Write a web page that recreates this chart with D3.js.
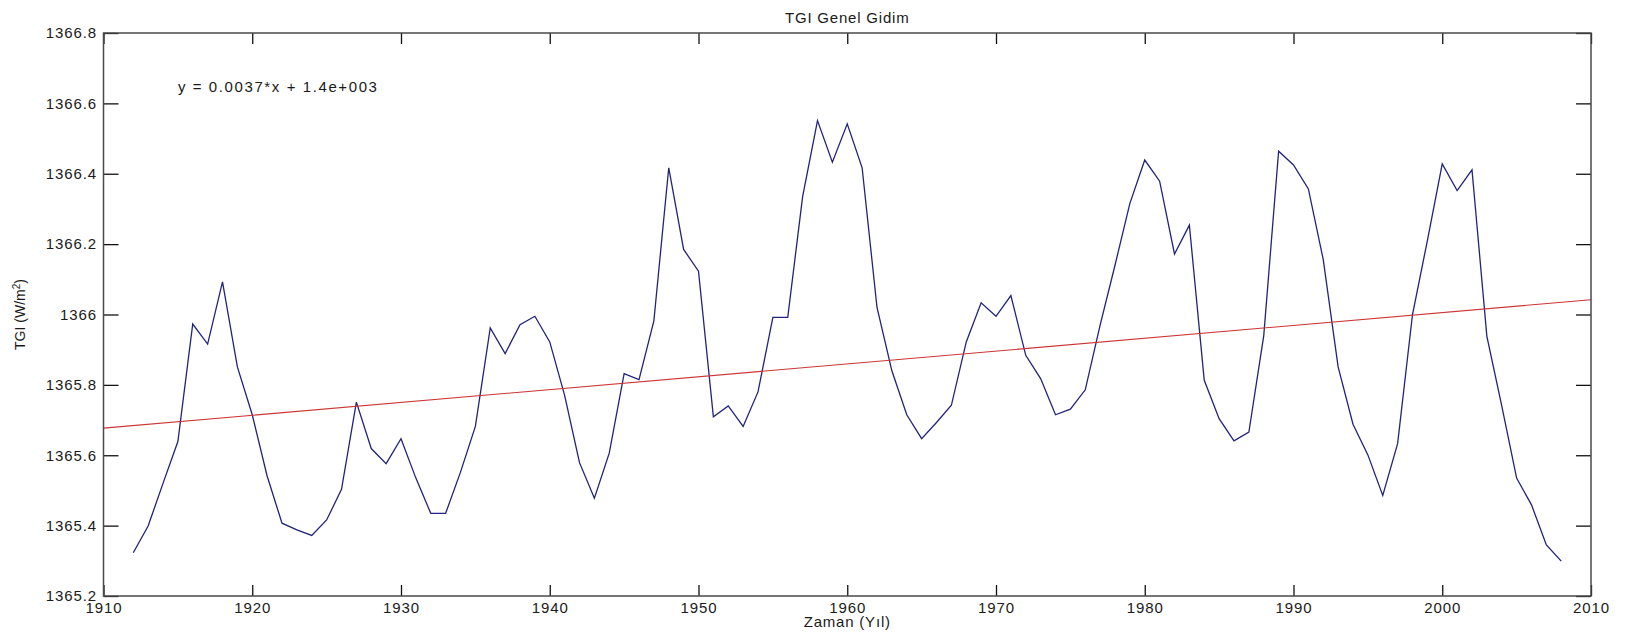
<!DOCTYPE html>
<html>
<head>
<meta charset="utf-8">
<script src="https://cdn.jsdelivr.net/npm/d3@7"></script>
<style>
  body { margin: 0; background: #fff; }
  text { font-family: "Liberation Sans", Arial, sans-serif; fill: #1a1a1a; }
</style>
</head>
<body>
<svg id="chart" width="1629" height="641"></svg>
<script>
// yearly TGI values
var years = [1912, 1913, 1914, 1915, 1916, 1917, 1918, 1919, 1920, 1921,
    1922, 1923, 1924, 1925, 1926, 1927, 1928, 1929, 1930, 1931,
    1932, 1933, 1934, 1935, 1936, 1937, 1938, 1939, 1940, 1941,
    1942, 1943, 1944, 1945, 1946, 1947, 1948, 1949, 1950, 1951,
    1952, 1953, 1954, 1955, 1956, 1957, 1958, 1959, 1960, 1961,
    1962, 1963, 1964, 1965, 1966, 1967, 1968, 1969, 1970, 1971,
    1972, 1973, 1974, 1975, 1976, 1977, 1978, 1979, 1980, 1981,
    1982, 1983, 1984, 1985, 1986, 1987, 1988, 1989, 1990, 1991,
    1992, 1993, 1994, 1995, 1996, 1997, 1998, 1999, 2000, 2001,
    2002, 2003, 2004, 2005, 2006, 2007, 2008];
var tgi = [1365.323, 1365.399, 1365.52, 1365.639, 1365.973, 1365.916, 1366.093, 1365.851, 1365.715, 1365.541,
    1365.407, 1365.388, 1365.372, 1365.416, 1365.503, 1365.751, 1365.619, 1365.576, 1365.647, 1365.535,
    1365.435, 1365.435, 1365.552, 1365.682, 1365.962, 1365.889, 1365.971, 1365.995, 1365.922, 1365.77,
    1365.579, 1365.478, 1365.606, 1365.832, 1365.815, 1365.982, 1366.417, 1366.185, 1366.123, 1365.709,
    1365.740, 1365.682, 1365.780, 1365.992, 1365.992, 1366.335, 1366.551, 1366.433, 1366.542, 1366.417,
    1366.02, 1365.84, 1365.715, 1365.647, 1365.693, 1365.742, 1365.922, 1366.033, 1365.995, 1366.054,
    1365.884, 1365.818, 1365.715, 1365.731, 1365.786, 1365.97, 1366.14, 1366.316, 1366.439, 1366.379,
    1366.172, 1366.254, 1365.813, 1365.704, 1365.641, 1365.666, 1365.94, 1366.464, 1366.425, 1366.357,
    1366.156, 1365.851, 1365.688, 1365.601, 1365.486, 1365.633, 1366.0, 1366.21, 1366.428, 1366.352,
    1366.411, 1365.938, 1365.74, 1365.535, 1365.459, 1365.345, 1365.299];

// linear fit line end points
var trendYears = [1910, 2010];
var trendValues = [1365.677, 1366.042];

var xTicks = [1910, 1920, 1930, 1940, 1950, 1960, 1970, 1980, 1990, 2000, 2010];
var yTicks = [1365.2, 1365.4, 1365.6, 1365.8, 1366.0, 1366.2, 1366.4, 1366.6, 1366.8];
var yTickLabels = ["1365.2", "1365.4", "1365.6", "1365.8", "1366", "1366.2", "1366.4", "1366.6", "1366.8"];

var chartTitle = "TGI Genel Gidim";
var fitLabel = "y = 0.0037*x + 1.4e+003";

var svg = d3.select("#chart"),
    margin = {top: 33, right: 38, bottom: 45, left: 103.5},
    width = +svg.attr("width") - margin.left - margin.right,
    height = +svg.attr("height") - margin.top - margin.bottom,
    g = svg.append("g").attr("transform", "translate(" + margin.left + "," + margin.top + ")");

var x = d3.scaleLinear().domain([1910, 2010]).range([0, width]);
var y = d3.scaleLinear().domain([1365.2, 1366.8]).range([height, 0]);

function styleAxis(sel) {
    sel.select(".domain").remove();
    sel.selectAll(".tick line").attr("stroke", "#111").attr("stroke-width", 1.3);
    sel.selectAll(".tick text")
        .style("font-size", "15px")
        .style("letter-spacing", "0.9px")
        .attr("fill", "#1a1a1a");
}

// bottom and left axes with labels, ticks pointing inward
g.append("g")
    .attr("transform", "translate(0," + height + ")")
    .call(d3.axisBottom(x).tickValues(xTicks).tickFormat(d3.format("d"))
        .tickSizeInner(-11).tickSizeOuter(0).tickPadding(6))
    .call(styleAxis);

g.append("g")
    .call(d3.axisLeft(y).tickValues(yTicks)
        .tickFormat(function(d, i) { return yTickLabels[i]; })
        .tickSizeInner(-15).tickSizeOuter(0).tickPadding(6.5))
    .call(styleAxis);

// top and right ticks only
g.append("g")
    .call(d3.axisTop(x).tickValues(xTicks).tickFormat("").tickSizeInner(-11).tickSizeOuter(0))
    .call(styleAxis);

g.append("g")
    .attr("transform", "translate(" + width + ",0)")
    .call(d3.axisRight(y).tickValues(yTicks).tickFormat("").tickSizeInner(-15).tickSizeOuter(0))
    .call(styleAxis);

// the data line
var line = d3.line()
    .x(function(d, i) { return x(years[i]); })
    .y(function(d) { return y(d); });

g.append("path")
    .datum(tgi)
    .attr("fill", "none")
    .attr("stroke", "#22237c")
    .attr("stroke-width", 1.3)
    .attr("stroke-linejoin", "miter")
    .attr("d", line);

// fitted trend line
g.append("path")
    .datum(trendValues)
    .attr("fill", "none")
    .attr("stroke", "#cc3535")
    .attr("stroke-width", 1.1)
    .attr("d", d3.line()
        .x(function(d, i) { return x(trendYears[i]); })
        .y(function(d) { return y(d); }));

// plot frame
g.append("rect")
    .attr("width", width)
    .attr("height", height)
    .attr("fill", "none")
    .attr("stroke", "#4a4a4a")
    .attr("stroke-width", 1.5);

// texts
svg.append("text")
    .attr("x", margin.left + width / 2)
    .attr("y", 22.5)
    .attr("text-anchor", "middle")
    .style("font-size", "15px")
    .style("letter-spacing", "0.8px")
    .text(chartTitle);

g.append("text")
    .attr("x", x(1915))
    .attr("y", 59)
    .style("font-size", "15px")
    .style("letter-spacing", "1.6px")
    .text(fitLabel);

svg.append("text")
    .attr("x", margin.left + width / 2)
    .attr("y", 627)
    .attr("text-anchor", "middle")
    .style("font-size", "15px")
    .style("letter-spacing", "0.8px")
    .text("Zaman (Yıl)");

var yl = svg.append("text")
    .attr("transform", "translate(25," + (margin.top + height / 2) + ") rotate(-90)")
    .attr("text-anchor", "middle")
    .style("font-size", "14px");
yl.append("tspan").text("TGI (W/m");
yl.append("tspan").attr("dy", "-5").style("font-size", "10px").text("2");
yl.append("tspan").attr("dy", "5").text(")");
</script>
</body>
</html>
